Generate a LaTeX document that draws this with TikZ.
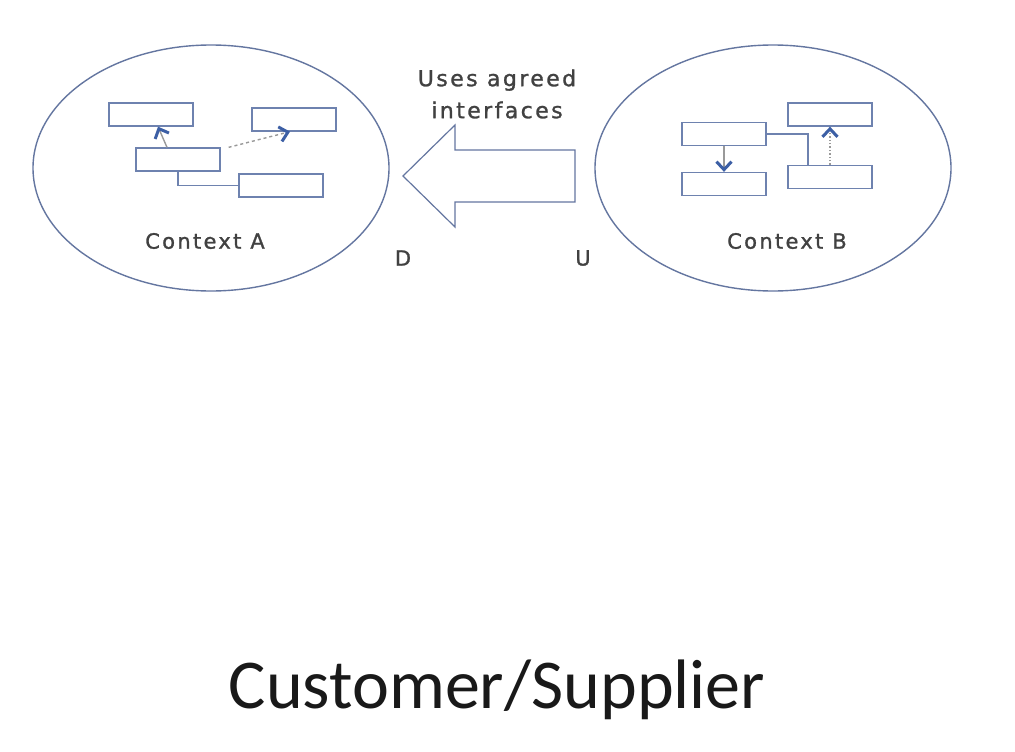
\documentclass[tikz,border=0pt]{standalone}
\usepackage{fontspec}
\setmainfont{Carlito}
\newfontfamily\sketchfont[LetterSpace=11, FakeBold=1.2]{DejaVu Sans}
\usetikzlibrary{arrows.meta,shapes.geometric}
\definecolor{rim}{RGB}{100,118,160}
\definecolor{boxline}{RGB}{110,130,175}
\definecolor{tipblue}{RGB}{60,95,165}
\definecolor{inkgray}{RGB}{65,65,65}
\tikzstyle{context} = [ellipse, draw=rim, line width=1.4pt, minimum width=356pt, minimum height=246pt, inner sep=0pt]
\tikzstyle{entity} = [rectangle, draw=boxline, line width=1.3pt, minimum width=84pt, minimum height=23pt, inner sep=0pt]
\tikzstyle{link} = [draw=boxline, line width=1.3pt]
\tikzstyle{depends} = [line width=1.4pt, draw=gray!80, -{Straight Barb[color=tipblue, length=8pt, width=15pt, line width=3pt]}]
\tikzstyle{caption} = [text=inkgray, font=\sketchfont\fontsize{21}{24}\selectfont]
\tikzstyle{bigarrow} = [draw=rim, line width=1.2pt, fill=white, line join=miter]

\begin{document}
\begin{tikzpicture}[x=1pt, y=-1pt]
    \useasboundingbox [fill=white] (0,0) rectangle (1015,752);
    % the two contexts
    \node (ctxA) [context] at (211,168) {};
    \node (ctxB) [context] at (773,168) {};
    \node (a1) [entity] at (151,114.5) {};
    \node (a2) [entity] at (294,119.5) {};
    \node (a3) [entity] at (178,159.5) {};
    \node (a4) [entity] at (281,185.5) {};
    \node (b1) [entity] at (724,134) {};
    \node (b2) [entity] at (830,114.5) {};
    \node (b3) [entity] at (724,184) {};
    \node (b4) [entity] at (830,177) {};
    \draw [link] (a3.south) |- (a4.west);
    \draw [depends] ([xshift=-11pt]a3.north) -- ([xshift=7pt]a1.south);
    \draw [depends, dashed] ([xshift=8pt]a3.north east) -- ([xshift=-4pt]a2.south);
    \draw [link] (b1.east) -| ([xshift=-22pt]b4.north);
    \draw [depends] (b1.south) -- (b3.north);
    \draw [depends, dotted] (b4.north) -- (b2.south);
    \node (lblA) [caption] at (205,241) {Context A};
    \node (lblB) [caption] at (787,241) {Context B};
    % upstream to downstream
    \draw [bigarrow] (575,150) -- (455,150) -- (455,125) -- (403,176) -- (455,227) -- (455,202) -- (575,202) -- cycle;
    \node (uses) [caption, align=center, font=\sketchfont\fontsize{22}{32}\selectfont] at (497,94) {Uses agreed\\interfaces};
    \node (down) [caption] at (403,258) {D};
    \node (up) [caption] at (583,258) {U};
    \node (title) [text=black!90, font=\fontsize{70}{80}\selectfont] at (497,690) {Customer/Supplier};
\end{tikzpicture}
\end{document}
